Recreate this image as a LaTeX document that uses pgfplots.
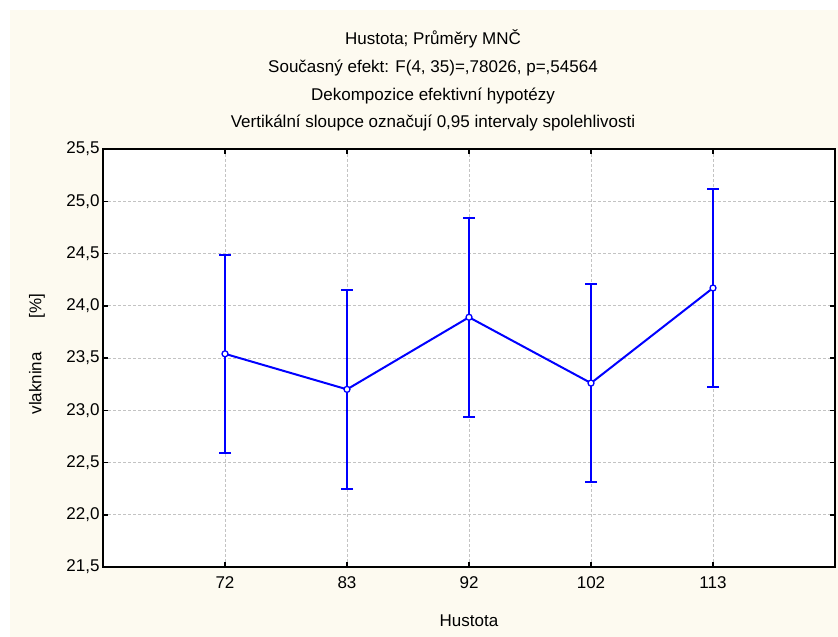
\documentclass[border=0pt]{standalone}
\usepackage{pgfplots}
\pgfplotsset{compat=1.18}
\usepackage{fontspec}
\setmainfont{Liberation Sans}
\definecolor{cream}{RGB}{253,250,240}
\definecolor{gridgray}{RGB}{195,195,195}
\pgfplotstableread{
x y err
1 23.54 0.945
2 23.20 0.950
3 23.89 0.950
4 23.26 0.945
5 24.17 0.950
}\datatable
\begin{document}
\begin{tikzpicture}[font=\fontsize{17bp}{20bp}\selectfont]
\path[use as bounding box] (0,0) rectangle (838bp,637bp);
\fill[white] (0,0) rectangle (838bp,637bp);
\fill[cream] (10bp,0) rectangle (838bp,627bp);
\begin{axis}[
  at={(103bp,70bp)}, anchor=south west,
  scale only axis, width=732bp, height=418bp,
  xmin=0, xmax=6, ymin=21.5, ymax=25.5,
  xtick={1,2,3,4,5}, xticklabels={72,83,92,102,113},
  ytick={21.5,22,...,25.5},
  axis background/.style={fill=white},
  grid=major,
  major grid style={gridgray, dash pattern=on 3bp off 2bp, line width=0.8bp},
  axis line style={black, line width=1.8bp},
  tick align=inside,
  major tick length=5bp,
  tick style={black, line width=1.5bp},
  /pgf/number format/assume math mode=true,
  yticklabel style={xshift=0bp, /pgf/number format/.cd, fixed, fixed zerofill, precision=1, use comma},
  xticklabel style={yshift=-6bp},
]
\addplot[blue, line width=2bp, mark=*, mark size=3bp,
  mark options={fill=white, draw=blue, line width=1.3bp},
  error bars/.cd, y dir=both, y explicit,
  error bar style={blue, line width=2bp},
  error mark options={blue, line width=2bp, mark size=6bp, rotate=90}]
  table[x=x, y=y, y error=err] {\datatable};
\end{axis}
\node at (433bp,598bp) {Hustota; Průměry MNČ};
\node at (433bp,569bp) {Současný efekt: F(4, 35)=,78026, p=,54564};
\node at (433bp,541bp) {Dekompozice efektivní hypotézy};
\node at (433bp,514bp) {Vertikální sloupce označují 0,95 intervaly spolehlivosti};
\node at (469bp,16bp) {Hustota};
\node[rotate=90] at (37bp,283bp) {vlaknina\hspace{2em}[\%]};
\end{tikzpicture}
\end{document}
